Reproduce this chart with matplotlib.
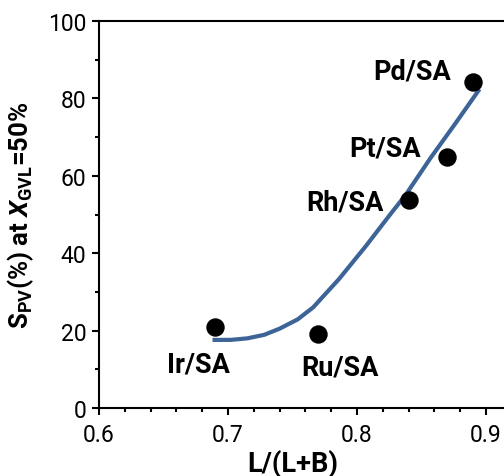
import numpy as np
import matplotlib
matplotlib.use('Agg')
import matplotlib.pyplot as plt
from matplotlib.ticker import MultipleLocator

# du lieu doc tu hinh
catalysts = ['Ir/SA', 'Ru/SA', 'Rh/SA', 'Pt/SA', 'Pd/SA']
ratio = [0.69, 0.77, 0.84, 0.87, 0.89]
selectivity = [21.0, 19.2, 53.8, 64.8, 84.3]

# vi tri nhan (tam chu)
label_x = [0.677, 0.787, 0.791, 0.822, 0.843]
label_y = [11.4, 10.6, 53.2, 67.2, 87.1]

# duong xu huong
fit_x = [0.688, 0.702, 0.715, 0.728, 0.740, 0.754, 0.766, 0.786,
         0.807, 0.825, 0.838, 0.857, 0.876, 0.895]
fit_y = [17.6, 17.6, 18.0, 18.9, 20.5, 22.9, 26.0, 33.3,
         41.9, 49.7, 55.2, 64.6, 73.4, 82.4]

font = 'Roboto'
plt.rcParams['font.family'] = [font, 'DejaVu Sans']
plt.rcParams['mathtext.fontset'] = 'custom'
plt.rcParams['mathtext.rm'] = font + ':bold'
plt.rcParams['mathtext.it'] = font + ':bold:italic'
plt.rcParams['mathtext.bf'] = font + ':bold'

fig = plt.figure(figsize=(5.04, 4.77), dpi=100)
ax = fig.add_axes([99/504, 68/477, 451.5/504, 387/477])

ax.plot(fit_x, fit_y, color='#3d6497', lw=3, solid_capstyle='butt',
        solid_joinstyle='round', zorder=2)
ax.scatter(ratio, selectivity, s=150, color='black', zorder=3)
for name, lx, ly in zip(catalysts, label_x, label_y):
    ax.text(lx, ly, name, ha='center', va='center', fontsize=19.5, fontweight='bold')

ax.set_xlim(0.6, 0.95)
ax.set_ylim(0, 100)
ax.xaxis.set_major_locator(MultipleLocator(0.1))
ax.xaxis.set_minor_locator(MultipleLocator(0.02))
ax.yaxis.set_major_locator(MultipleLocator(20))
ax.yaxis.set_minor_locator(MultipleLocator(10))
ax.tick_params(which='both', direction='out', width=1.5, labelsize=16.5)
ax.tick_params(which='major', length=5, pad=4)
ax.tick_params(axis='x', which='major', pad=6)
ax.set_xticks([0.6, 0.7, 0.8, 0.9])
ax.set_xticklabels(['0.6', '0.7', '0.8', '0.9'])
ax.tick_params(which='minor', length=3)
for s in ax.spines.values():
    s.set_linewidth(1.5)

ax.set_xlabel('L/(L+B)', fontsize=19.5, fontweight='bold')
ax.xaxis.set_label_coords(0.43, -0.105)
ax.set_ylabel(r'S$_{\mathrm{PV}}$(%) at $\mathit{X}_{\mathrm{GVL}}$=50%', fontsize=18.5, fontweight='bold')
ax.yaxis.set_label_coords(-0.14, 0.5)

fig.savefig('out.png', dpi=100)
